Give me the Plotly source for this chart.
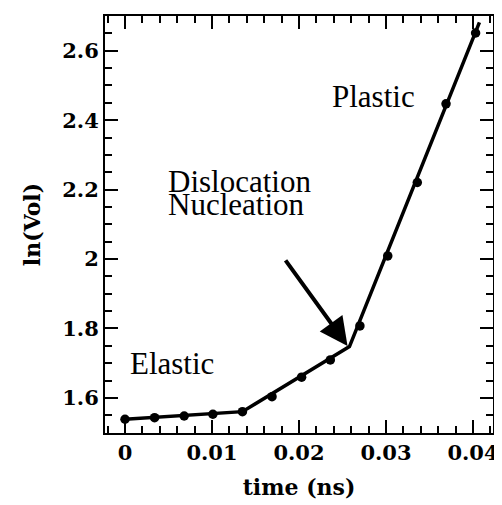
import plotly.graph_objects as go

# measured points (markers)
time_ns = [0.0, 0.0034, 0.0068, 0.0101, 0.0135, 0.0169, 0.0203, 0.0236, 0.0270, 0.0302, 0.0336, 0.0369, 0.0403]
ln_vol = [1.5386, 1.5432, 1.548, 1.553, 1.5605, 1.6037, 1.6597, 1.7095, 1.8075, 2.009, 2.2205, 2.447, 2.651]

# piecewise fit line (elastic / nucleation kink / plastic)
fit_x = [0.0, 0.0135, 0.0258, 0.04074]
fit_y = [1.5386, 1.5605, 1.748, 2.6816]

x_ticks = [0, 0.01, 0.02, 0.03, 0.04]
x_ticklabels = ["0", "0.01", "0.02", "0.03", "0.04"]
y_ticks = [1.6, 1.8, 2.0, 2.2, 2.4, 2.6]
y_ticklabels = ["1.6", "1.8", "2", "2.2", "2.4", "2.6"]
x_range = [-0.0023, 0.0423]
y_range = [1.499, 2.70]

label_font = dict(family="Liberation Serif, Times New Roman, serif", size=31, color="black")
tick_font = dict(family="DejaVu Serif, serif", size=21, color="black")
title_font = dict(family="DejaVu Serif, serif", size=22, color="black")

fig = go.Figure()
fig.add_trace(go.Scatter(x=fit_x, y=fit_y, mode="lines",
                         line=dict(color="black", width=3.5), showlegend=False))
fig.add_trace(go.Scatter(x=time_ns, y=ln_vol, mode="markers",
                         marker=dict(color="black", size=9.5), showlegend=False))

fig.add_annotation(x=0.00538, y=1.698, text="Elastic", showarrow=False, font=label_font)
fig.add_annotation(x=0.02852, y=2.4674, text="Plastic", showarrow=False, font=label_font)
fig.add_annotation(x=0.0047, y=2.2225, text="Dislocation", showarrow=False,
                   font=label_font, xanchor="left")
fig.add_annotation(x=0.0047, y=2.156, text="Nucleation", showarrow=False,
                   font=label_font, xanchor="left")
fig.add_annotation(x=0.02558, y=1.7499, ax=0.01833, ay=2.0006, axref="x", ayref="y",
                   xref="x", yref="y", text="", showarrow=True,
                   arrowhead=2, arrowsize=1.4, arrowwidth=4, arrowcolor="black")

fig.update_xaxes(range=x_range, tickvals=x_ticks, ticktext=["<b>%s</b>" % t for t in x_ticklabels],
                 ticks="inside", ticklen=13, tickwidth=2, tickcolor="black",
                 showline=True, linecolor="black", linewidth=2,
                 mirror="allticks", showgrid=False, zeroline=False, tickfont=tick_font,
                 minor=dict(dtick=0.002, ticks="inside", ticklen=7, tickwidth=2, tickcolor="black"),
                 title=dict(text="<b>time (ns)</b>", font=title_font))
fig.update_yaxes(range=y_range, tickvals=y_ticks, ticktext=["<b>%s</b>" % t for t in y_ticklabels],
                 ticks="inside", ticklen=13, tickwidth=2, tickcolor="black",
                 showline=True, linecolor="black", linewidth=2,
                 mirror="allticks", showgrid=False, zeroline=False, tickfont=tick_font,
                 minor=dict(dtick=0.05, ticks="inside", ticklen=7, tickwidth=2, tickcolor="black"),
                 title=dict(text="<b>ln(Vol)</b>", font=title_font, standoff=16))

# page body adds an 8px margin; size the figure so the plot area lands where the reference's is
fig.update_layout(width=494, height=497, margin=dict(l=97, r=9, t=8, b=72, autoexpand=False),
                  plot_bgcolor="white", paper_bgcolor="white")

fig.write_html("out.html")
